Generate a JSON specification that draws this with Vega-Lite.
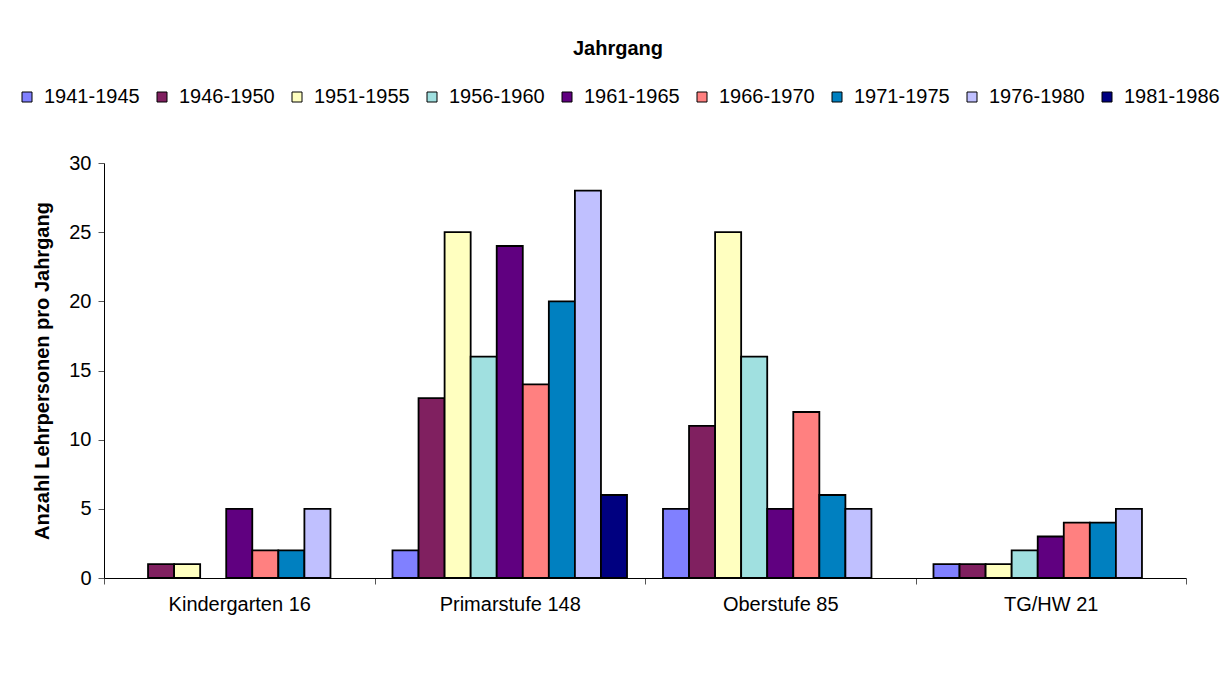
{
  "$schema": "https://vega.github.io/schema/vega-lite/v6.json",
  "width": 1082,
  "height": 415,
  "autosize": {"type": "none"},
  "padding": {"left": 104, "top": 163, "right": 40, "bottom": 104},
  "background": "white",
  "data": {
    "values": [
      {"Stufe": "Kindergarten 16", "Jahrgang": "1946-1950", "Anzahl": 1},
      {"Stufe": "Kindergarten 16", "Jahrgang": "1951-1955", "Anzahl": 1},
      {"Stufe": "Kindergarten 16", "Jahrgang": "1961-1965", "Anzahl": 5},
      {"Stufe": "Kindergarten 16", "Jahrgang": "1966-1970", "Anzahl": 2},
      {"Stufe": "Kindergarten 16", "Jahrgang": "1971-1975", "Anzahl": 2},
      {"Stufe": "Kindergarten 16", "Jahrgang": "1976-1980", "Anzahl": 5},
      {"Stufe": "Primarstufe 148", "Jahrgang": "1941-1945", "Anzahl": 2},
      {"Stufe": "Primarstufe 148", "Jahrgang": "1946-1950", "Anzahl": 13},
      {"Stufe": "Primarstufe 148", "Jahrgang": "1951-1955", "Anzahl": 25},
      {"Stufe": "Primarstufe 148", "Jahrgang": "1956-1960", "Anzahl": 16},
      {"Stufe": "Primarstufe 148", "Jahrgang": "1961-1965", "Anzahl": 24},
      {"Stufe": "Primarstufe 148", "Jahrgang": "1966-1970", "Anzahl": 14},
      {"Stufe": "Primarstufe 148", "Jahrgang": "1971-1975", "Anzahl": 20},
      {"Stufe": "Primarstufe 148", "Jahrgang": "1976-1980", "Anzahl": 28},
      {"Stufe": "Primarstufe 148", "Jahrgang": "1981-1986", "Anzahl": 6},
      {"Stufe": "Oberstufe 85", "Jahrgang": "1941-1945", "Anzahl": 5},
      {"Stufe": "Oberstufe 85", "Jahrgang": "1946-1950", "Anzahl": 11},
      {"Stufe": "Oberstufe 85", "Jahrgang": "1951-1955", "Anzahl": 25},
      {"Stufe": "Oberstufe 85", "Jahrgang": "1956-1960", "Anzahl": 16},
      {"Stufe": "Oberstufe 85", "Jahrgang": "1961-1965", "Anzahl": 5},
      {"Stufe": "Oberstufe 85", "Jahrgang": "1966-1970", "Anzahl": 12},
      {"Stufe": "Oberstufe 85", "Jahrgang": "1971-1975", "Anzahl": 6},
      {"Stufe": "Oberstufe 85", "Jahrgang": "1976-1980", "Anzahl": 5},
      {"Stufe": "TG/HW 21", "Jahrgang": "1941-1945", "Anzahl": 1},
      {"Stufe": "TG/HW 21", "Jahrgang": "1946-1950", "Anzahl": 1},
      {"Stufe": "TG/HW 21", "Jahrgang": "1951-1955", "Anzahl": 1},
      {"Stufe": "TG/HW 21", "Jahrgang": "1956-1960", "Anzahl": 2},
      {"Stufe": "TG/HW 21", "Jahrgang": "1961-1965", "Anzahl": 3},
      {"Stufe": "TG/HW 21", "Jahrgang": "1966-1970", "Anzahl": 4},
      {"Stufe": "TG/HW 21", "Jahrgang": "1971-1975", "Anzahl": 4},
      {"Stufe": "TG/HW 21", "Jahrgang": "1976-1980", "Anzahl": 5}
    ]
  },
  "mark": {"type": "bar", "stroke": "black", "strokeWidth": 1.8},
  "encoding": {
    "x": {
      "field": "Stufe",
      "type": "nominal",
      "scale": {
        "domain": ["Kindergarten 16", "Primarstufe 148", "Oberstufe 85", "TG/HW 21"],
        "paddingInner": 0,
        "paddingOuter": 0
      },
      "axis": {
        "title": null,
        "labelAngle": 0,
        "tickBand": "extent",
        "tickSize": 6,
        "tickColor": "#555555",
        "domainColor": "black",
        "labelFontSize": 20,
        "labelColor": "black",
        "labelPadding": 10
      }
    },
    "xOffset": {
      "field": "Jahrgang",
      "type": "nominal",
      "scale": {
        "domain": ["1941-1945", "1946-1950", "1951-1955", "1956-1960", "1961-1965", "1966-1970", "1971-1975", "1976-1980", "1981-1986"],
        "paddingInner": 0,
        "paddingOuter": 0.69
      }
    },
    "y": {
      "field": "Anzahl",
      "type": "quantitative",
      "scale": {"domain": [0, 30], "nice": false},
      "axis": {
        "title": "Anzahl Lehrpersonen pro Jahrgang",
        "values": [0, 5, 10, 15, 20, 25, 30],
        "grid": false,
        "tickSize": 6,
        "tickColor": "#555555",
        "domainColor": "black",
        "labelFontSize": 20,
        "labelColor": "black",
        "labelPadding": 7,
        "titleFontSize": 20,
        "titleFontWeight": "bold",
        "titleColor": "black",
        "titlePadding": 16
      }
    },
    "color": {
      "field": "Jahrgang",
      "type": "nominal",
      "scale": {
        "domain": ["1941-1945", "1946-1950", "1951-1955", "1956-1960", "1961-1965", "1966-1970", "1971-1975", "1976-1980", "1981-1986"],
        "range": ["#8080FF", "#802060", "#FFFFC0", "#A0E0E0", "#600080", "#FF8080", "#0080C0", "#C0C0FF", "#000080"]
      },
      "legend": {
        "orient": "none",
        "legendX": -87,
        "legendY": -124,
        "direction": "horizontal",
        "columns": 9,
        "title": "Jahrgang",
        "titleFontSize": 20,
        "titleFontWeight": "bold",
        "titleColor": "black",
        "titleAnchor": "middle",
        "titlePadding": 28,
        "labelFontSize": 20,
        "labelColor": "black",
        "symbolType": "square",
        "symbolSize": 100,
        "symbolStrokeColor": "black",
        "symbolStrokeWidth": 1,
        "symbolOpacity": 1,
        "labelOffset": 7,
        "columnPadding": 12,
        "padding": 0
      }
    }
  },
  "config": {
    "view": {"stroke": null},
    "font": "Liberation Sans"
  }
}
